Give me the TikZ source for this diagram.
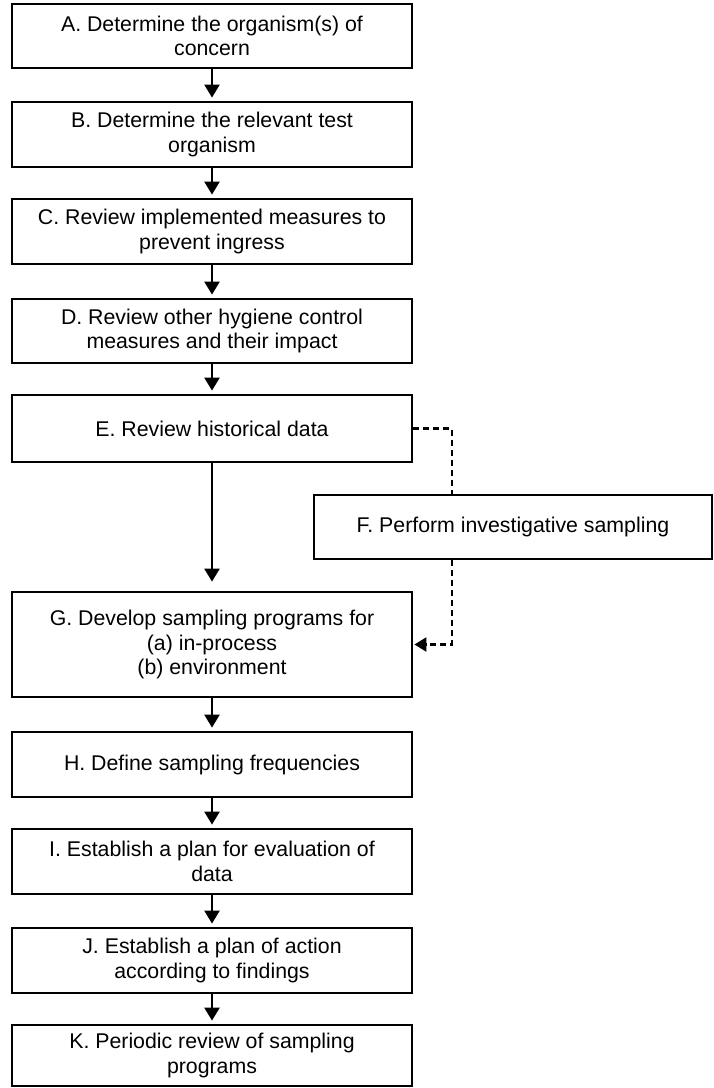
\documentclass[tikz,border=0pt]{standalone}
\usepackage{fontspec}
\setmainfont{Liberation Sans}
\usetikzlibrary{arrows.meta}
\begin{document}
\begin{tikzpicture}[x=1pt,y=-1pt,
  box/.style={draw, line width=2.8pt, minimum width=400pt, inner sep=0pt, align=center,
    font=\fontsize{21.3pt}{24.5pt}\selectfont},
  flow/.style={line width=2.4pt, -{Triangle[length=13pt,width=15pt]}, shorten >=3pt},
  dashlink/.style={line width=2.2pt, dash pattern=on 6pt off 4pt}
]
\useasboundingbox (0,0) rectangle (714,1088);
\fill[white] (0,0) rectangle (714,1088);

\node[box, minimum height=64pt] (A) at (212,36) {A. Determine the organism(s) of\\concern};
\node[box, minimum height=65pt] (B) at (212,134.5) {B. Determine the relevant test\\organism};
\node[box, minimum height=65pt] (C) at (212,231.5) {C. Review implemented measures to\\prevent ingress};
\node[box, minimum height=64pt] (D) at (212,331) {D. Review other hygiene control\\measures and their impact};
\node[box, minimum height=67pt] (E) at (212,428.5) {E. Review historical data};
\node[box, minimum height=64pt, minimum width=398pt] (F) at (513,527) {F. Perform investigative sampling};
\node[box, minimum height=105pt] (G) at (212,644.5) {G. Develop sampling programs for\\(a) in-process\\(b) environment};
\node[box, minimum height=65pt] (H) at (212,764.5) {H. Define sampling frequencies};
\node[box, minimum height=65pt] (I) at (212,861.5) {I. Establish a plan for evaluation of\\data};
\node[box, minimum height=65pt] (J) at (212,960.5) {J. Establish a plan of action\\according to findings};
\node[box, minimum height=61pt] (K) at (212,1055.5) {K. Periodic review of sampling\\programs};

\draw[flow] (A.south) -- (B.north);
\draw[flow] (B.south) -- (C.north);
\draw[flow] (C.south) -- (D.north);
\draw[flow] (D.south) -- (E.north);
\draw[flow, shorten >=9pt] (E.south) -- (G.north);
\draw[flow] (G.south) -- (H.north);
\draw[flow] (H.south) -- (I.north);
\draw[flow] (I.south) -- (J.north);
\draw[flow] (J.south) -- (K.north);

\coordinate (e1) at (452,428.5);
\coordinate (g1) at (452,644.5);
\draw[dashlink] (E.east) -- (e1) -- (F.north -| e1);
\draw[dashlink, -{Triangle[length=12pt,width=14pt]}, shorten >=1pt] (F.south -| e1) -- (g1) -- (G.east);
\end{tikzpicture}
\end{document}
